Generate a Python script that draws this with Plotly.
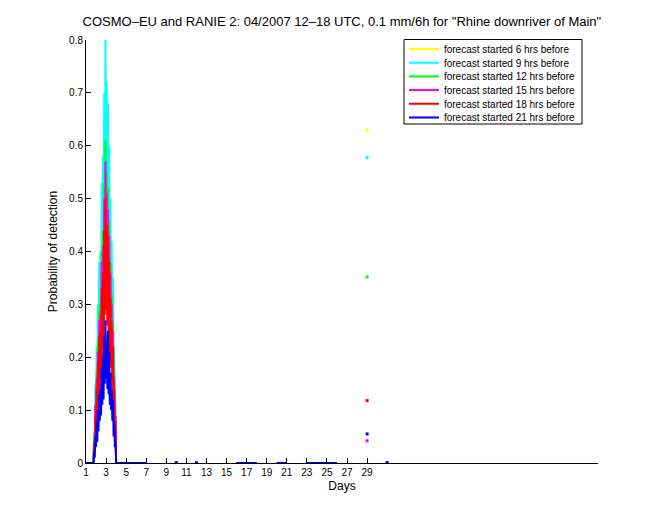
import plotly.graph_objects as go

# ---- data ----
# onset of the event (days 1.0 .. 4.0), sampled densely
peak_days = [1.75, 1.8125, 1.875, 1.9375, 2.0, 2.0625, 2.125, 2.1875, 2.25, 2.3125,
             2.375, 2.4375, 2.5, 2.5625, 2.625, 2.6875, 2.75, 2.8125, 2.875, 2.9375,
             3.0, 3.0625, 3.125, 3.1875, 3.25, 3.3125, 3.375, 3.4375, 3.5, 3.5625,
             3.625, 3.6875, 3.75, 3.8125, 3.875, 3.9375, 4.0]

pod_6h_peak = [0, 0.05, 0.03, 0.12, 0.07, 0.18, 0.10, 0.25, 0.14, 0.32, 0.19, 0.34, 0.22,
               0.45, 0.27, 0.49, 0.30, 0.59, 0.38, 0.67, 0.39, 0.61, 0.35, 0.57, 0.32,
               0.50, 0.27, 0.42, 0.24, 0.35, 0.18, 0.29, 0.13, 0.18, 0.07, 0.10, 0]
pod_9h_peak = [0, 0.06, 0.04, 0.15, 0.08, 0.22, 0.12, 0.30, 0.16, 0.38, 0.22, 0.40, 0.26,
               0.53, 0.32, 0.58, 0.36, 0.70, 0.45, 0.80, 0.46, 0.72, 0.42, 0.68, 0.38,
               0.60, 0.32, 0.50, 0.28, 0.42, 0.22, 0.35, 0.16, 0.22, 0.08, 0.12, 0]
pod_12h_peak = [0, 0.05, 0.03, 0.11, 0.06, 0.17, 0.09, 0.23, 0.12, 0.29, 0.17, 0.30, 0.20,
                0.40, 0.24, 0.44, 0.27, 0.53, 0.34, 0.61, 0.35, 0.55, 0.32, 0.52, 0.29,
                0.46, 0.24, 0.38, 0.21, 0.32, 0.17, 0.27, 0.12, 0.17, 0.06, 0.09, 0]
pod_15h_peak = [0, 0.04, 0.03, 0.11, 0.06, 0.16, 0.09, 0.21, 0.11, 0.27, 0.16, 0.28, 0.18,
                0.38, 0.23, 0.41, 0.26, 0.50, 0.32, 0.57, 0.33, 0.51, 0.30, 0.48, 0.27,
                0.43, 0.23, 0.36, 0.20, 0.30, 0.16, 0.25, 0.11, 0.16, 0.06, 0.09, 0]
pod_18h_peak = [0, 0.04, 0.03, 0.09, 0.05, 0.14, 0.08, 0.19, 0.10, 0.24, 0.14, 0.25, 0.16,
                0.33, 0.20, 0.36, 0.22, 0.44, 0.28, 0.50, 0.29, 0.45, 0.26, 0.43, 0.24,
                0.38, 0.20, 0.31, 0.18, 0.26, 0.14, 0.22, 0.10, 0.14, 0.05, 0.08, 0]
pod_21h_peak = [0, 0.02, 0.01, 0.05, 0.03, 0.08, 0.04, 0.10, 0.06, 0.13, 0.08, 0.14, 0.09,
                0.18, 0.11, 0.20, 0.12, 0.24, 0.15, 0.27, 0.16, 0.22, 0.14, 0.25, 0.13,
                0.21, 0.11, 0.17, 0.10, 0.14, 0.08, 0.12, 0.05, 0.08, 0.03, 0.04, 0]

# zero-valued stretches (gaps = no data)
start_days = [1.0]
start_vals = [0]
tail_days = [7.0, None, 16.0, 18.0, None, 20.0, 21.0, None, 23.0, 26.0]
tail_vals = [0, None, 0, 0, None, 0, 0, None, 0, 0]

# isolated single-day values
point_days = [10.0, 12.0, 29.0, 31.0]
pts_6h = [0, 0, 0.630, 0]
pts_9h = [0, 0, 0.578, 0]
pts_12h = [0, 0, 0.352, 0]
pts_15h = [0, 0, 0.042, 0]
pts_18h = [0, 0, 0.118, 0]
pts_21h = [0, 0, 0.055, 0]

names = ["forecast started 6 hrs before", "forecast started 9 hrs before",
         "forecast started 12 hrs before", "forecast started 15 hrs before",
         "forecast started 18 hrs before", "forecast started 21 hrs before"]
colors = ["#FFFF00", "#00FFFF", "#00FF00", "#FF00FF", "#FF0000", "#0000FF"]
peak_series = [pod_6h_peak, pod_9h_peak, pod_12h_peak, pod_15h_peak, pod_18h_peak, pod_21h_peak]
point_series = [pts_6h, pts_9h, pts_12h, pts_15h, pts_18h, pts_21h]

x_ticks = [1, 3, 5, 7, 9, 11, 13, 15, 17, 19, 21, 23, 25, 27, 29]
y_ticks = [0, 0.1, 0.2, 0.3, 0.4, 0.5, 0.6, 0.7, 0.8]
y_ticklabels = ["0", "0.1", "0.2", "0.3", "0.4", "0.5", "0.6", "0.7", "0.8"]

font = "Liberation Sans, Arial, sans-serif"

# plot-area geometry in pixels (for legend placement)
PLOT_TOP, PLOT_BOTTOM, PLOT_LEFT, PLOT_RIGHT = 40, 463, 86, 598
PH = PLOT_BOTTOM - PLOT_TOP
PW = PLOT_RIGHT - PLOT_LEFT

all_days = start_days + peak_days + tail_days

fig = go.Figure()
legend_ids = ["legend"] + ["legend%d" % (i + 1) for i in range(1, 6)]
for i, (name, col, pk) in enumerate(zip(names, colors, peak_series)):
    ys = start_vals + pk + tail_vals
    fig.add_trace(go.Scatter(x=all_days, y=ys, mode="lines", name=name,
                             line=dict(color=col, width=2), connectgaps=False,
                             legend=legend_ids[i]))
for name, col, ys in zip(names, colors, point_series):
    fig.add_trace(go.Scatter(x=point_days, y=ys, mode="markers", showlegend=False,
                             marker=dict(color=col, size=3, symbol="square")))

legends = {}
for i, lid in enumerate(legend_ids):
    top_px = 34.5 + 13.7 * i
    legends[lid] = dict(x=0.621, y=(PLOT_BOTTOM - top_px) / PH, xanchor="left", yanchor="top",
                        bgcolor="rgba(0,0,0,0)", borderwidth=0,
                        font=dict(size=10, family=font, color="black"), itemwidth=30)

fig.update_layout(
    width=660, height=520,
    paper_bgcolor="white", plot_bgcolor="white",
    margin=dict(l=PLOT_LEFT, r=660 - PLOT_RIGHT, t=PLOT_TOP, b=520 - PLOT_BOTTOM),
    font=dict(family=font, size=10, color="black"),
    title=dict(text='COSMO–EU and RANIE 2: 04/2007 12–18 UTC, 0.1 mm/6h for "Rhine downriver of Main"',
               x=0.518, xanchor="center", y=0.958, yanchor="middle",
               font=dict(size=13, family=font, color="black")),
    showlegend=True,
    shapes=[dict(type="rect", xref="paper", yref="paper",
                 x0=(404 - PLOT_LEFT) / PW, x1=(582 - PLOT_LEFT) / PW,
                 y0=(PLOT_BOTTOM - 124) / PH, y1=(PLOT_BOTTOM - 39.5) / PH,
                 line=dict(color="black", width=1), fillcolor="white", layer="above")],
    xaxis=dict(range=[1, 52], tickvals=x_ticks, ticktext=[str(v) for v in x_ticks],
               ticks="inside", ticklen=5, tickcolor="black", showline=True,
               linecolor="black", linewidth=1, showgrid=False, zeroline=False,
               mirror=False, title=dict(text="Days", font=dict(size=12), standoff=4),
               tickfont=dict(size=10)),
    yaxis=dict(range=[0, 0.8], tickvals=y_ticks, ticktext=y_ticklabels,
               ticks="inside", ticklen=5, tickcolor="black", showline=True,
               linecolor="black", linewidth=1, showgrid=False, zeroline=False,
               mirror=False, title=dict(text="Probability of detection", font=dict(size=12), standoff=8),
               tickfont=dict(size=10)),
    **legends,
)

fig.write_html("out.html")
